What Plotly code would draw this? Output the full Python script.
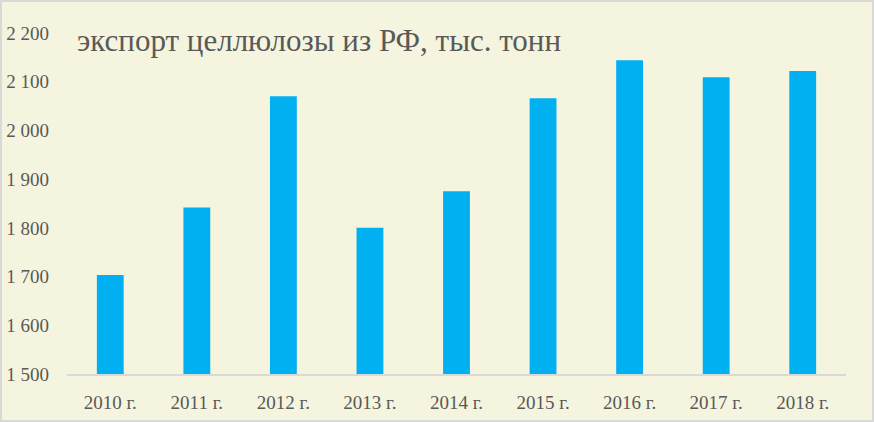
import plotly.graph_objects as go

years = ["2010 г.", "2011 г.", "2012 г.", "2013 г.", "2014 г.", "2015 г.", "2016 г.", "2017 г.", "2018 г."]
export_kt = [1703, 1842, 2070, 1800, 1875, 2066, 2144, 2109, 2122]
y_ticks = [1500, 1600, 1700, 1800, 1900, 2000, 2100, 2200]
y_tick_labels = ["1 500", "1 600", "1 700", "1 800", "1 900", "2 000", "2 100", "2 200"]
title_text = "экспорт целлюлозы из РФ, тыс. тонн"

W, H = 874, 422
L, R, T, B = 67, 28, 33, 48
pw, ph = W - L - R, H - T - B

fig = go.Figure()
fig.add_trace(go.Bar(x=years, y=export_kt, marker=dict(color="#00B0F0", line=dict(width=0)),
                     hoverinfo="x+y"))

font_fam = "Liberation Serif, DejaVu Serif, serif"
fig.update_layout(
    width=W, height=H,
    margin=dict(l=L, r=R, t=T, b=B, pad=0, autoexpand=False),
    paper_bgcolor="#F5F4DE",
    plot_bgcolor="#F5F4DE",
    bargap=0.69,
    showlegend=False,
    font=dict(family=font_fam, color="#595959", size=19),
    xaxis=dict(showgrid=False, showline=True, linecolor="#D9D9D9", linewidth=2,
               ticks="", ticklabelstandoff=10, tickfont=dict(size=19), automargin=False),
    yaxis=dict(range=[1500, 2200], tickvals=y_ticks, ticktext=y_tick_labels,
               showgrid=False, zeroline=False, showline=False, ticks="",
               ticklabelstandoff=17, tickfont=dict(size=19), automargin=False),
    shapes=[dict(type="rect", xref="paper", yref="paper",
                 x0=-(L - 1) / pw, x1=1 + (R - 1) / pw,
                 y0=-(B - 1) / ph, y1=1 + (T - 1) / ph,
                 line=dict(color="#D9D9D9", width=2), fillcolor="rgba(0,0,0,0)", layer="below")],
    annotations=[dict(text=title_text, xref="paper", yref="paper",
                      x=(75 - L) / pw, y=1 - (41 - T) / ph, xanchor="left", yanchor="middle",
                      showarrow=False, font=dict(family=font_fam, size=31, color="#595959"))],
)
fig.write_html("out.html", config={"displayModeBar": False},
               post_script="document.body.style.margin='0';document.body.style.padding='0';")
